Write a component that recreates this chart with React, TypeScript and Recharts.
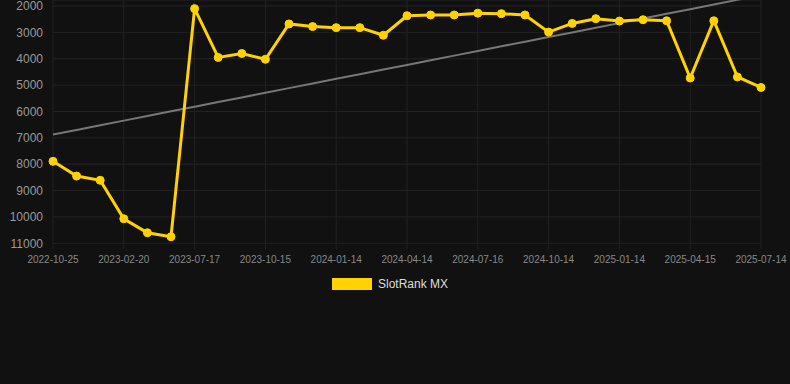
import React from "react";
import { LineChart, Line, XAxis, YAxis, CartesianGrid, Legend } from "recharts";

// ── Data ───────────────────────────────────────────────────────────────────
const dates = [
  "2022-10-25", "2022-11-24", "2022-12-24", "2023-02-20", "2023-03-22", "2023-05-16",
  "2023-07-17", "2023-08-16", "2023-09-15", "2023-10-15", "2023-11-14", "2023-12-14",
  "2024-01-14", "2024-02-13", "2024-03-14", "2024-04-14", "2024-05-15", "2024-06-15",
  "2024-07-16", "2024-08-15", "2024-09-14", "2024-10-14", "2024-11-13", "2024-12-14",
  "2025-01-14", "2025-02-13", "2025-03-15", "2025-04-15", "2025-05-15", "2025-06-14",
  "2025-07-14",
];

const rankMX = [
  7890, 8450, 8610, 10070, 10600, 10750,
  2100, 3950, 3800, 4020, 2680, 2780,
  2820, 2820, 3110, 2370, 2340, 2340,
  2270, 2290, 2340, 2990, 2660, 2480,
  2570, 2520, 2560, 4730, 2560, 4690,
  5090,
];

const yTicks = [2000, 3000, 4000, 5000, 6000, 7000, 8000, 9000, 10000, 11000];

// least-squares trend over the series
function trendOf(values: number[]) {
  const n = values.length;
  const mx = (n - 1) / 2;
  const my = values.reduce((a, b) => a + b, 0) / n;
  let sxy = 0, sxx = 0;
  values.forEach((v, i) => { sxy += (i - mx) * (v - my); sxx += (i - mx) ** 2; });
  const slope = sxy / sxx;
  return values.map((_, i) => my + slope * (i - mx));
}

const trend = trendOf(rankMX);
const data = dates.map((d, i) => ({ date: d, rank: rankMX[i], trend: trend[i] }));

const GOLD = "#FFD200";
const GRID = "#222222";

function LegendBox() {
  return (
    <div style={{ height: 20, display: "flex", alignItems: "center", paddingLeft: 332 }}>
      <span style={{ width: 40, height: 12, background: GOLD, display: "inline-block" }} />
      <span style={{ marginLeft: 6, fontSize: 12, color: "#dddddd" }}>SlotRank MX</span>
    </div>
  );
}

export default function App() {
  return (
    <div
      style={{
        position: "absolute", left: 0, top: 0, width: 790, height: 384,
        background: "#111111", fontFamily: "'Liberation Sans', Arial, sans-serif",
      }}
    >
      <LineChart width={790} height={384} data={data} margin={{ top: 0, right: 29, left: 0, bottom: 90 }}>
        <CartesianGrid stroke={GRID} />
        <XAxis
          dataKey="date"
          interval={2}
          height={30.7}
          tick={{ fontSize: 10, fill: "#888888" }}
          tickSize={6}
          tickMargin={7}
          tickLine={{ stroke: GRID }}
          axisLine={false}
          padding={{ left: 0, right: 0 }}
        />
        <YAxis
          reversed
          type="number"
          domain={[1772, 11000]}
          allowDataOverflow
          ticks={yTicks}
          interval={0}
          width={53}
          tick={{ fontSize: 12, fill: "#999999" }}
          tickSize={6}
          tickMargin={4}
          tickLine={false}
          axisLine={false}
        />
        <Legend verticalAlign="bottom" content={() => <LegendBox />} />
        <Line
          dataKey="trend"
          stroke="#777777"
          strokeWidth={2}
          dot={false}
          activeDot={false}
          legendType="none"
          isAnimationActive={false}
        />
        <Line
          dataKey="rank"
          name="SlotRank MX"
          stroke={GOLD}
          strokeWidth={3}
          dot={{ r: 4, fill: GOLD, stroke: GOLD, strokeWidth: 1 }}
          isAnimationActive={false}
        />
      </LineChart>
    </div>
  );
}
